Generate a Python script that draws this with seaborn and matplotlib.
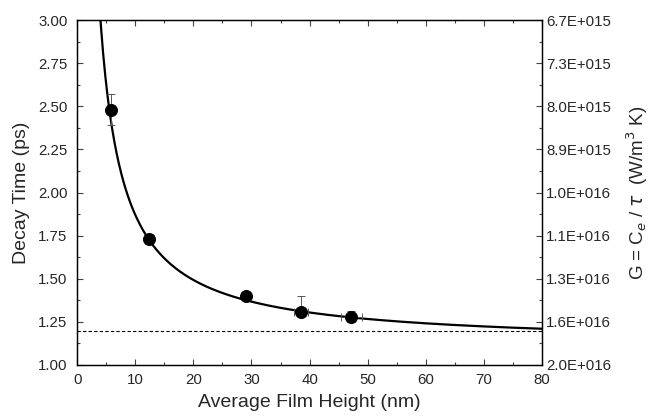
import numpy as np
import pandas as pd
import matplotlib.pyplot as plt
from matplotlib.ticker import MultipleLocator
import seaborn as sns

# measured decay times vs film height
height = [5.8, 12.3, 29.0, 38.6, 47.2]
decay = [2.48, 1.73, 1.40, 1.31, 1.28]
err_lo = [0.09, 0.03, 0.0, 0.02, 0.03]
err_hi = [0.09, 0.03, 0.0, 0.09, 0.035]
xerr = [0.0, 0.0, 0.0, 1.2, 1.8]

# fit tau = a + b / h
fit_a = 1.116
fit_b = 7.54
bulk_tau = 1.20

left_ticks = [1.00, 1.25, 1.50, 1.75, 2.00, 2.25, 2.50, 2.75, 3.00]
right_labels = ["2.0E+016", "1.6E+016", "1.3E+016", "1.1E+016", "1.0E+016",
                "8.9E+015", "8.0E+015", "7.3E+015", "6.7E+015"]

sns.set_style("ticks")
plt.rcParams['font.family'] = ['Liberation Sans', 'DejaVu Sans']

fig = plt.figure(figsize=(6.49, 4.16), dpi=100)
ax = fig.add_axes([0.119, 0.1226, 0.716, 0.829])

h = np.linspace(3.5, 80, 400)
curve = pd.DataFrame({"h": h, "tau": fit_a + fit_b / h})
sns.lineplot(data=curve, x="h", y="tau", color="black", lw=1.6, ax=ax)

ax.axhline(bulk_tau, color="black", lw=0.8, ls=(0, (3, 2)))

ax.errorbar(height, decay, yerr=[err_lo, err_hi], xerr=xerr, fmt="none",
            ecolor="#555555", elinewidth=0.7, capsize=3, capthick=0.7)
pts = pd.DataFrame({"h": height, "tau": decay})
sns.scatterplot(data=pts, x="h", y="tau", color="black", s=75,
                edgecolor="black", zorder=5, ax=ax)

ax.set_xlim(0, 80)
ax.set_ylim(1.0, 3.0)
ax.set_yticks(left_ticks)
ax.set_yticklabels([f"{v:.2f}" for v in left_ticks])
ax.xaxis.set_major_locator(MultipleLocator(10))
ax.xaxis.set_minor_locator(MultipleLocator(5))
ax.yaxis.set_minor_locator(MultipleLocator(0.125))
ax.tick_params(which="both", direction="in", top=True, labelsize=10.8,
               width=0.8, color="#444444")
ax.tick_params(which="major", length=4)
ax.tick_params(which="minor", length=2.5)
ax.tick_params(axis="x", pad=6)
ax.tick_params(axis="y", pad=7)
ax.set_xlabel("Average Film Height (nm)", fontsize=14, labelpad=5)
ax.set_ylabel("Decay Time (ps)", fontsize=14, labelpad=6)

ax2 = ax.twinx()
ax2.set_ylim(1.0, 3.0)
ax2.set_yticks(left_ticks)
ax2.set_yticklabels(right_labels)
ax2.yaxis.set_minor_locator(MultipleLocator(0.125))
ax2.tick_params(which="both", direction="in", labelsize=10.8, width=0.8,
                color="#444444", pad=3)
ax2.tick_params(which="major", length=4)
ax2.tick_params(which="minor", length=2.5)
ax2.set_ylabel(r"G = C$_e$ / $\tau$  (W/m$^3$ K)", fontsize=13.5, labelpad=10)

for a in (ax, ax2):
    for s in a.spines.values():
        s.set_linewidth(0.9)
        s.set_color("black")

fig.savefig("out.png", dpi=100)
